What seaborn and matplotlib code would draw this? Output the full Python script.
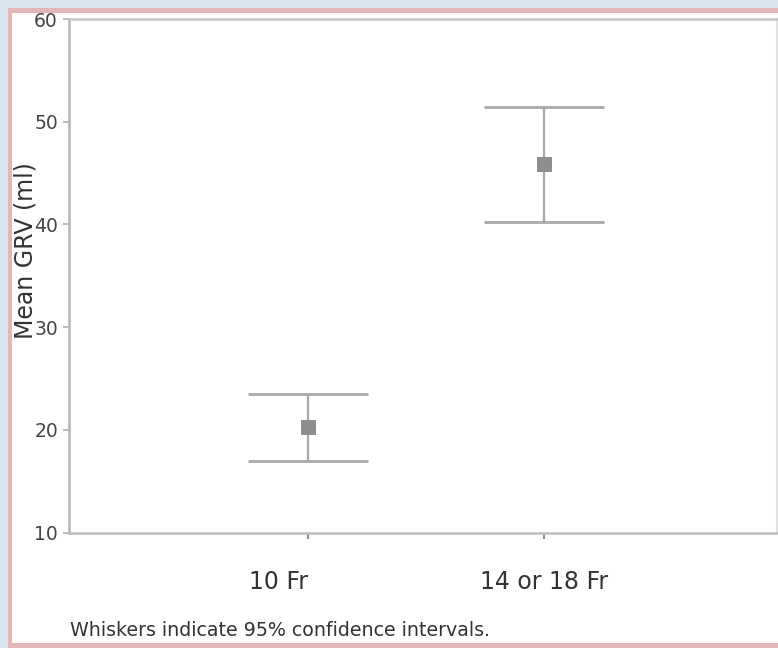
import matplotlib
matplotlib.use("Agg")
import matplotlib.pyplot as plt
import matplotlib.transforms as mtransforms
from matplotlib.patches import Rectangle
import pandas as pd
import seaborn as sns

# ── DATA ─────────────────────────────────────────────────────────────────────
groups   = ["10 Fr", "14 or 18 Fr"]
mean_grv = [20.2, 45.8]
ci_low   = [17.0, 40.2]
ci_high  = [23.5, 51.4]
y_ticks  = [10, 20, 30, 40, 50, 60]
footnote = "Whiskers indicate 95% confidence intervals."

df = pd.DataFrame({"group": groups, "mean": mean_grv, "low": ci_low, "high": ci_high})

sns.set_style("white")
plt.rcParams["font.family"] = ["DejaVu Sans"]

W, H = 778, 648
fig = plt.figure(figsize=(W / 100, H / 100), dpi=100, facecolor="#dbe7f0")

# slide frame: pink border round a white panel
fig.patches.append(Rectangle((8 / W, 0), 1, 1 - 8 / H, transform=fig.transFigure,
                             facecolor="#e6b6b6", edgecolor="none", zorder=-2))
fig.patches.append(Rectangle((12 / W, 5 / H), 1, 1 - 18 / H, transform=fig.transFigure,
                             facecolor="white", edgecolor="none", zorder=-1))

ax = fig.add_axes([69 / W, 1 - 532.5 / H, 708 / W, (532.5 - 19) / H])

# ── WHISKERS + MEANS ─────────────────────────────────────────────────────────
ax.errorbar(df["group"], df["mean"],
            yerr=[df["mean"] - df["low"], df["high"] - df["mean"]],
            fmt="none", ecolor="#a9a9a9", elinewidth=1.6,
            capsize=43, capthick=2.0, zorder=2)
sns.scatterplot(data=df, x="group", y="mean", marker="s", s=120,
                color="#8e8e8e", edgecolor="none", ax=ax, zorder=3)

ax.set_xlim(-1.014, 1.986)
ax.set_ylim(10, 60)
ax.set_yticks(y_ticks)
ax.set_xlabel("")
ax.set_ylabel("Mean GRV (ml)", fontsize=17, color="#333333")
ax.yaxis.set_label_coords(-0.045, 0.55)

ax.tick_params(axis="y", left=True, length=4, width=1.2, color="#b0b0b0",
               pad=4, labelsize=13.5, labelcolor="#444444")
ax.tick_params(axis="x", bottom=True, length=4, width=1.5, color="#909090",
               pad=23, labelsize=17, labelcolor="#333333")

# first category label sits left of its tick in the original
first = ax.get_xticklabels()[0]
first.set_transform(first.get_transform()
                    + mtransforms.ScaledTranslation(-0.30, 0, fig.dpi_scale_trans))

for side, col, lw in [("left", "#b4b4b4", 1.8), ("bottom", "#bdbdbd", 1.8),
                      ("top", "#c4c4c4", 1.8), ("right", "#e2e2e2", 1.5)]:
    ax.spines[side].set_visible(True)
    ax.spines[side].set_color(col)
    ax.spines[side].set_linewidth(lw)

fig.text(70 / W, 1 - 630 / H, footnote, fontsize=13.7, ha="left", va="center",
         color="#333333")

fig.savefig("out.png", dpi=100, facecolor=fig.get_facecolor())
